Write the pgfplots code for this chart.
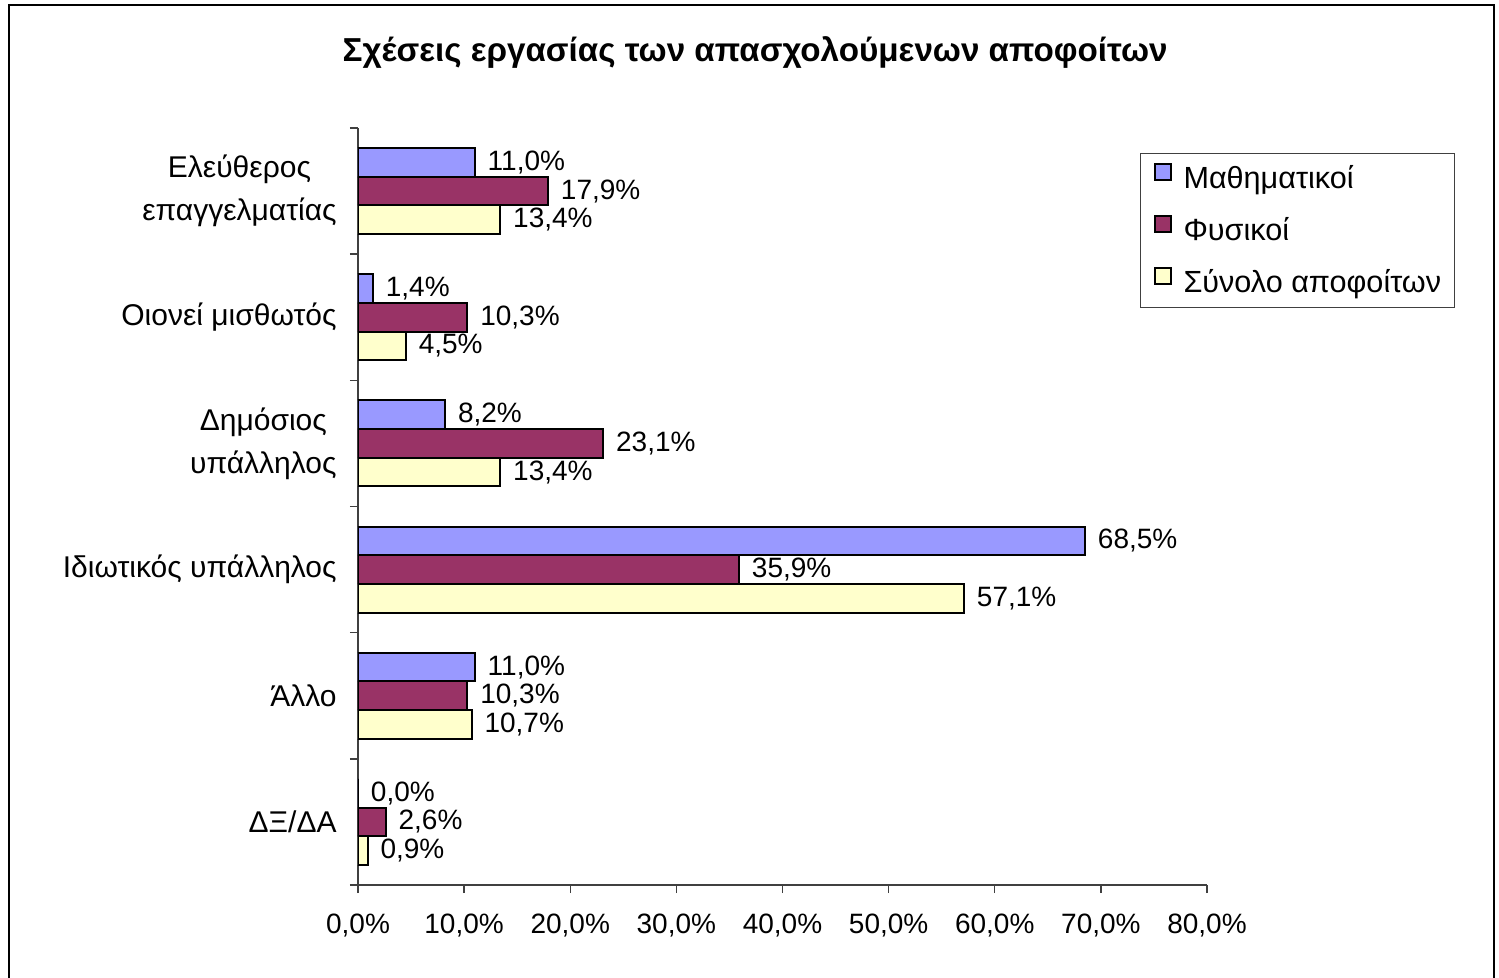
\documentclass[border=0pt]{standalone}
\usepackage{fontspec}
\setmainfont{Liberation Sans}
\usepackage{pgfplots}
\pgfplotsset{compat=1.18}
\definecolor{mathblue}{HTML}{9999FF}
\definecolor{physred}{HTML}{993366}
\definecolor{totyel}{HTML}{FFFFCC}
\definecolor{axisgray}{HTML}{404040}
\pgfkeys{/pgf/number format/pct/.style={fixed,fixed zerofill,precision=1,use comma,assume math mode=true}}
\pgfplotsset{
  barstyle/.style={draw=black,line width=1pt},
}

\begin{document}
\begin{tikzpicture}
\useasboundingbox (0pt,0pt) rectangle (749.5pt,-489pt);
\begin{scope}[x=0.5pt,y=-0.5pt]
\draw[black,line width=1pt] (9,1000) -- (9,5) -- (1494,5) -- (1494,1000);
\node[anchor=base,inner sep=0pt,font=\fontsize{16.6}{19}\selectfont\bfseries] at (755,62)
  {Σχέσεις εργασίας των απασχολούμενων αποφοίτων};
\end{scope}
\begin{axis}[
  at={(179pt,-442.5pt)}, anchor=south west,
  scale only axis, width=424.5pt, height=378.5pt,
  xbar, bar width=14.35pt,
  xmin=0, xmax=80, ymin=-0.5, ymax=5.5,
  axis x line*=bottom, axis y line*=left,
  axis line style={axisgray,line width=0.7pt},
  tick style={axisgray,line width=0.7pt},
  tick align=outside, major tick length=4pt, minor tick length=4pt,
  xtick={0,10,...,80},
  xticklabel={\pgfmathprintnumber[pct]{\tick}\%},
  xticklabel style={font=\fontsize{14}{16}\selectfont,inner sep=0pt,anchor=north,yshift=-10.5pt},
  ytick={0,...,5},
  yticklabels={ΔΞ/ΔΑ,Άλλο,Ιδιωτικός υπάλληλος,{Δημόσιος\\υπάλληλος},Οιονεί μισθωτός,{Ελεύθερος\\επαγγελματίας}},
  yticklabel style={font=\fontsize{15}{21.5}\selectfont,align=center,inner sep=0pt,anchor=east,xshift=-6.5pt},
  major y tick style={draw=none},
  minor ytick={-0.5,0.5,...,5.5},
  nodes near coords={\pgfmathprintnumber[pct]{\pgfplotspointmeta}\%},
  nodes near coords style={font=\fontsize{14}{16}\selectfont,anchor=west,inner sep=0pt,xshift=6pt,black},
  legend style={at={(axis description cs:0.921,0.967)},anchor=north west,
    draw=axisgray,line width=0.6pt,inner xsep=6.5pt,inner ysep=4.8pt,row sep=10.5pt,
    font=\fontsize{15.3}{18}\selectfont,
    nodes={inner sep=0pt,text height=11pt,text depth=3pt}},
  legend cell align=left,
  legend image code/.code={\draw[#1,line width=1pt] (0pt,0pt) rectangle (8pt,8pt); \path (14pt,0pt);},
]
\addplot[barstyle,fill=mathblue,bar shift=14.35pt] coordinates {(11.0,5) (1.4,4) (8.2,3) (68.5,2) (11.0,1) (0.0,0)};
\addplot[barstyle,fill=physred,bar shift=0pt] coordinates {(17.9,5) (10.3,4) (23.1,3) (35.9,2) (10.3,1) (2.6,0)};
\addplot[barstyle,fill=totyel,bar shift=-14.35pt] coordinates {(13.4,5) (4.5,4) (13.4,3) (57.1,2) (10.7,1) (0.9,0)};
\legend{Μαθηματικοί,Φυσικοί,Σύνολο αποφοίτων}
\end{axis}
\end{tikzpicture}
\end{document}
